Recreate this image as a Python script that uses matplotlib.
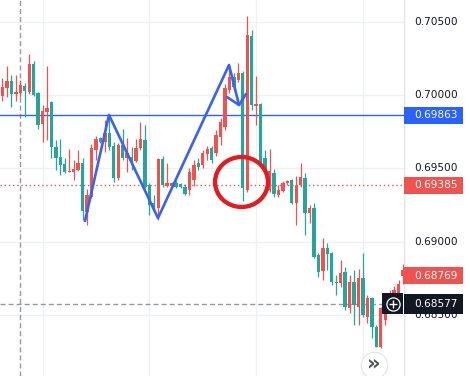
import matplotlib
matplotlib.use("Agg")
import matplotlib.pyplot as plt
from matplotlib.patches import Ellipse, Rectangle
import numpy as np

# candles (price units)
opens = [
    0.70055, 0.70096, 0.70007, 0.70021, 0.70068, 0.70027, 0.70212, 0.70000, 0.69795, 0.69891,
    0.69911, 0.69645, 0.69570, 0.69523, 0.69475, 0.69482, 0.69495, 0.69536, 0.69209, 0.69318,
    0.69639, 0.69700, 0.69680, 0.69741, 0.69645, 0.69434, 0.69659, 0.69570, 0.69605, 0.69550,
    0.69639, 0.69700, 0.69373, 0.69250, 0.69229, 0.69564, 0.69386, 0.69400, 0.69400, 0.69373,
    0.69373, 0.69325, 0.69475, 0.69523, 0.69509, 0.69605, 0.69632, 0.69557, 0.69727, 0.69816,
    0.70048, 0.70123, 0.70055, 0.70150, 0.69366, 0.70409, 0.69932, 0.69939, 0.69536, 0.69489,
    0.69482, 0.69325, 0.69352, 0.69400, 0.69414, 0.69264, 0.69386, 0.69441, 0.69195, 0.69229,
    0.68895, 0.68793, 0.68957, 0.68916, 0.68725, 0.68718, 0.68786, 0.68554, 0.68725, 0.68568,
    0.68752, 0.68500, 0.68616, 0.68418, 0.68281, 0.68547, 0.68602, 0.68636, 0.68670, 0.68711,
    0.68807]
closes = [
    0.69993, 0.70048, 0.70096, 0.70007, 0.70014, 0.70061, 0.70021, 0.70212, 0.70014, 0.69802,
    0.69884, 0.69952, 0.69645, 0.69577, 0.69530, 0.69475, 0.69475, 0.69489, 0.69536, 0.69202,
    0.69304, 0.69625, 0.69707, 0.69680, 0.69741, 0.69652, 0.69434, 0.69659, 0.69570, 0.69577,
    0.69550, 0.69639, 0.69693, 0.69386, 0.69264, 0.69229, 0.69564, 0.69379, 0.69379, 0.69400,
    0.69393, 0.69373, 0.69352, 0.69420, 0.69536, 0.69523, 0.69598, 0.69639, 0.69605, 0.69714,
    0.69782, 0.70034, 0.70123, 0.70102, 0.70150, 0.69352, 0.70402, 0.69925, 0.69939, 0.69570,
    0.69352, 0.69468, 0.69318, 0.69345, 0.69400, 0.69420, 0.69264, 0.69386, 0.69434, 0.69195,
    0.69229, 0.68909, 0.68800, 0.68957, 0.68923, 0.68725, 0.68718, 0.68793, 0.68547, 0.68725,
    0.68554, 0.68752, 0.68486, 0.68616, 0.68418, 0.68281, 0.68466, 0.68568, 0.68616, 0.68650,
    0.68769]
highs = [
    0.70116, 0.70198, 0.70136, 0.70136, 0.70102, 0.70082, 0.70280, 0.70232, 0.70021, 0.69932,
    0.70198, 0.69959, 0.69693, 0.69700, 0.69570, 0.69632, 0.69557, 0.69625, 0.69570, 0.69359,
    0.69666, 0.69720, 0.69714, 0.69830, 0.69857, 0.69680, 0.69673, 0.69768, 0.69707, 0.69645,
    0.69700, 0.69816, 0.69795, 0.69400, 0.69318, 0.69570, 0.69584, 0.69536, 0.69407, 0.69414,
    0.69400, 0.69393, 0.69502, 0.69557, 0.69570, 0.69625, 0.69652, 0.69652, 0.69761, 0.69843,
    0.70075, 0.70205, 0.70150, 0.70218, 0.70164, 0.70539, 0.70443, 0.70130, 0.69946, 0.69625,
    0.69632, 0.69495, 0.69386, 0.69414, 0.69420, 0.69427, 0.69448, 0.69536, 0.69468, 0.69250,
    0.69264, 0.68923, 0.69025, 0.68991, 0.68929, 0.68772, 0.68875, 0.68827, 0.68772, 0.68807,
    0.68813, 0.68923, 0.68636, 0.68622, 0.68431, 0.68554, 0.68629, 0.68670, 0.68697, 0.68738,
    0.68848]
lows = [
    0.69959, 0.69986, 0.69918, 0.69959, 0.69986, 0.69850, 0.70007, 0.69993, 0.69768, 0.69680,
    0.69693, 0.69570, 0.69489, 0.69454, 0.69468, 0.69475, 0.69420, 0.69482, 0.69148, 0.69113,
    0.69298, 0.69557, 0.69673, 0.69611, 0.69625, 0.69407, 0.69420, 0.69557, 0.69475, 0.69489,
    0.69543, 0.69625, 0.69366, 0.69182, 0.69216, 0.69148, 0.69373, 0.69373, 0.69366, 0.69366,
    0.69366, 0.69318, 0.69318, 0.69379, 0.69489, 0.69502, 0.69557, 0.69536, 0.69584, 0.69659,
    0.69761, 0.70014, 0.70034, 0.70089, 0.69277, 0.69339, 0.69898, 0.69795, 0.69523, 0.69454,
    0.69339, 0.69304, 0.69304, 0.69339, 0.69386, 0.69257, 0.69113, 0.69373, 0.69045, 0.69127,
    0.68888, 0.68759, 0.68738, 0.68807, 0.68704, 0.68636, 0.68691, 0.68534, 0.68513, 0.68431,
    0.68431, 0.68486, 0.68445, 0.68343, 0.68281, 0.68275, 0.68431, 0.68534, 0.68588, 0.68629,
    0.68711]

price_ticks = [0.705, 0.700, 0.695, 0.690, 0.685]
time_grid = [9, 33, 57, 81]

blue_level = 0.69863
red_level = 0.69385
last_price = 0.68769
cross_price = 0.68577
cross_bar = 3.87

# drawn zigzag (bar index, price) and arrow head at its end
zz_x = [18.54, 23.93, 34.94, 50.90, 53.15]
zz_y = [0.69141, 0.69864, 0.69161, 0.70205, 0.69932]
head_x = [50.45, 53.15, 54.72]
head_y = [0.69986, 0.69932, 0.70007]

circle_x, circle_y = 53.71, 0.69407

GREEN = '#26a69a'
RED = '#ef5350'
BLUE = '#2962ff'

ymin, ymax = 0.68084, 0.70648

fig = plt.figure(figsize=(4.7, 3.76), dpi=100)
fig.patch.set_facecolor('white')
ax = fig.add_axes([0, 0, 404 / 470, 1])
ax2 = fig.add_axes([404 / 470, 0, 66 / 470, 1])
ax2.set_zorder(3)

ax.set_xlim(-0.56, 90.22)
ax.set_ylim(ymin, ymax)
ax.axis('off')

# grid
for p in price_ticks:
    ax.axhline(p, color='#eef0f4', lw=1, zorder=0)
for t in time_grid:
    ax.axvline(t, color='#eef0f4', lw=1, zorder=0)

# crosshair
ax.axvline(cross_bar, color='#9598a1', lw=1, ls=(0, (3.6, 2.2)), zorder=1)
ax.axhline(cross_price, xmax=383 / 404, color='#9598a1', lw=1, ls=(0, (3.6, 2.2)), zorder=1)

# levels
ax.axhline(blue_level, color=BLUE, lw=1, zorder=2)
ax.axhline(red_level, color=RED, lw=1, ls=(0, (1, 2)), zorder=2)

# candles
x = np.arange(len(opens))
o = np.array(opens)
c = np.array(closes)
cols = np.where(c >= o, GREEN, RED)
ax.vlines(x, lows, highs, colors=cols, lw=0.9, zorder=3)
ax.bar(x, np.maximum(np.abs(c - o), 0.00007), bottom=np.minimum(o, c),
       width=0.75, color=cols, lw=0, zorder=3)

# drawings
ax.plot(zz_x, zz_y, color='#3a62ef', lw=1.9, zorder=4,
        solid_capstyle='round', solid_joinstyle='round')
ax.plot(head_x, head_y, color='#3a62ef', lw=1.9, zorder=4,
        solid_capstyle='round', solid_joinstyle='round')
ax.add_patch(Ellipse((circle_x, circle_y), 11.9, 0.00341, fill=False,
                     ec='#e31b23', lw=3.1, zorder=5))

# scroll button
ax.plot(83.48, 0.68159, 'o', ms=19, mfc='white', mec='#e3e4e8', mew=0.8, zorder=6)
ax.text(83.48, 0.68172, '\u00bb', ha='center', va='center', fontsize=15,
        fontweight='bold', color='#50535e', zorder=7)

# price scale
ax2.set_xlim(0, 66)
ax2.set_ylim(ymin, ymax)
ax2.axis('off')
ax2.axvline(0, color='#e0e3eb', lw=1)
for p in price_ticks:
    ax2.text(10, p, f'{p:.5f}', ha='left', va='center', fontsize=7.6, color='#131722')

px = (ymax - ymin) / 376


def tag(price, color, h=17):
    ax2.add_patch(Rectangle((0, price - h * px / 2), 59, h * px, fc=color, ec='none',
                            zorder=5, clip_on=False))
    ax2.text(10, price, f'{price:.5f}', ha='left', va='center', fontsize=7.6,
             color='white', zorder=6)


tag(blue_level, BLUE)
tag(red_level, RED)
tag(last_price, RED)
tag(cross_price, '#131722', h=20)

# crosshair "+" button
ax2.add_patch(Rectangle((-22, cross_price - 10.5 * px), 21, 21 * px, fc='#131722',
                        ec='none', zorder=5, clip_on=False))
ax2.plot(-11.5, cross_price, 'o', ms=9.5, mfc='none', mec='white', mew=0.9,
         zorder=6, clip_on=False)
ax2.plot(-11.5, cross_price, '+', ms=5.5, mew=1, color='white', zorder=6, clip_on=False)

fig.savefig('out.png', dpi=100, facecolor='white')
